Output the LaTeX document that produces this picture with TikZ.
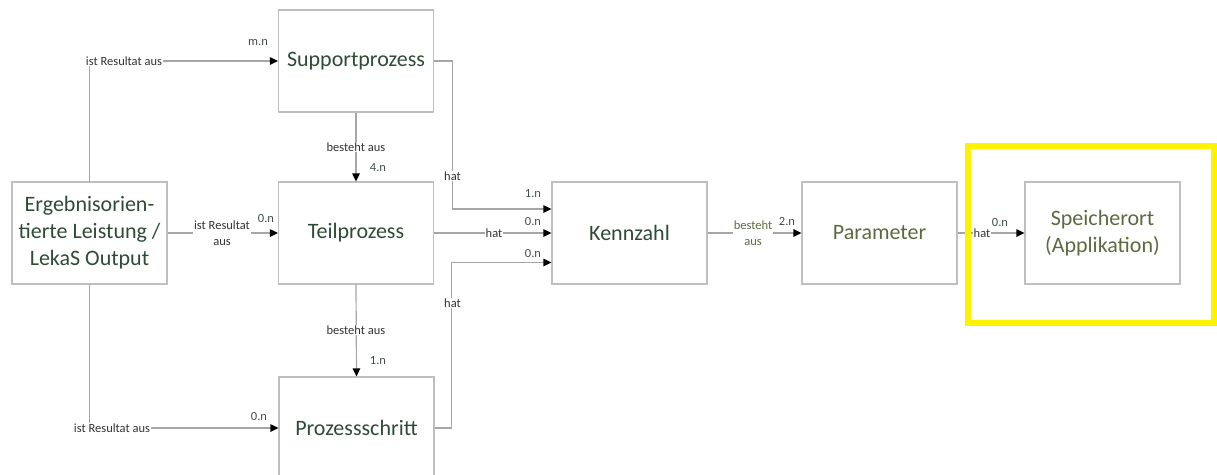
\documentclass[tikz,border=0pt]{standalone}
\usepackage{fontspec}
\setmainfont{Carlito}
\usetikzlibrary{arrows.meta}
\definecolor{boxline}{HTML}{BFBFBF}
\definecolor{connline}{HTML}{A6A6A6}
\definecolor{boxtext}{HTML}{2E4B35}
\definecolor{olivetext}{HTML}{5B6B3F}
\definecolor{lbltext}{HTML}{333333}
\definecolor{cardtext}{HTML}{3F4F4A}

\begin{document}
\begin{tikzpicture}[x=1pt,y=-1pt,
  box/.style={draw=boxline,line width=1.2pt,minimum width=155pt,minimum height=102pt,
    align=center,text=boxtext,font=\fontsize{22}{27}\selectfont},
  conn/.style={draw=connline,line width=1.2pt,-{Triangle[length=8pt,width=7.5pt,color=black]}},
  lbl/.style={fill=white,inner sep=1pt,text=lbltext,align=center,font=\fontsize{12.5}{15.5}\selectfont},
  card/.style={inner sep=0pt,text=cardtext,font=\fontsize{12.5}{15.5}\selectfont}]
\useasboundingbox (0,0) rectangle (1217,474);
% Boxes
\node[box] (erg) at (89.5,233) {Ergebnisorien-\\tierte Leistung /\\LekaS Output};
\node[box] (sup) at (356,61) {Supportprozess};
\node[box] (teil) at (356,233) {Teilprozess};
\node[box] (proz) at (356.5,428) {Prozessschritt};
\node[box] (kenn) at (629.5,233) {Kennzahl};
\node[box,text=olivetext] (para) at (879.5,233) {Parameter};
\node[box,text=olivetext] (spei) at (1102.5,233) {Speicherort\\(Applikation)};
% Connectors
\draw[conn] (erg.north) |- (sup.west);
\draw[conn] (erg.east) -- (teil.west);
\draw[conn] (erg.south) |- (proz.west);
\draw[conn] (sup.south) -- (teil.north);
\draw[conn] (teil.south) -- (proz.north);
\draw[conn] (sup.east) -- ++(18,0) |- ([yshift=24pt]kenn.west);
\draw[conn] (teil.east) -- (kenn.west);
\draw[conn] (proz.east) -- ++(17,0) |- ([yshift=-29.5pt]kenn.west);
\draw[conn] (kenn.east) -- (para.west);
\draw[conn] (para.east) -- (spei.west);
% Left labels
\node[lbl] (l1) at (124,61) {ist Resultat aus};
\node[lbl] (l2) at (222,233) {ist Resultat\\aus};
\node[lbl] (l3) at (112,428) {ist Resultat aus};
\node[card] (c1) at (258,43) {m.n};
\node[card] (c2) at (266,218) {0.n};
\node[card] (c3) at (259,416) {0.n};
% Middle labels
\node[lbl] (l4) at (356,147) {besteht aus};
\node[lbl] (l5) at (356,330) {besteht aus};
\node[card] (c4) at (378,168) {4.n};
\node[card] (c5) at (378,361) {1.n};
\node[lbl] (l6) at (452.5,176) {hat};
\node[lbl] (l7) at (494,233) {hat};
\node[lbl] (l8) at (452.5,303) {hat};
\node[card] (c6) at (533,194) {1.n};
\node[card] (c7) at (533,221) {0.n};
\node[card] (c8) at (533,253) {0.n};
% Right labels
\node[lbl,text=olivetext] (l9) at (753,233) {besteht\\aus};
\node[card] (c9) at (787,221) {2.n};
\node[lbl] (l10) at (982,233) {hat};
\node[card] (c10) at (1000,222) {0.n};
% Highlight
\draw[yellow,line width=6pt] (968,146) rectangle (1214,323);
\end{tikzpicture}
\end{document}
